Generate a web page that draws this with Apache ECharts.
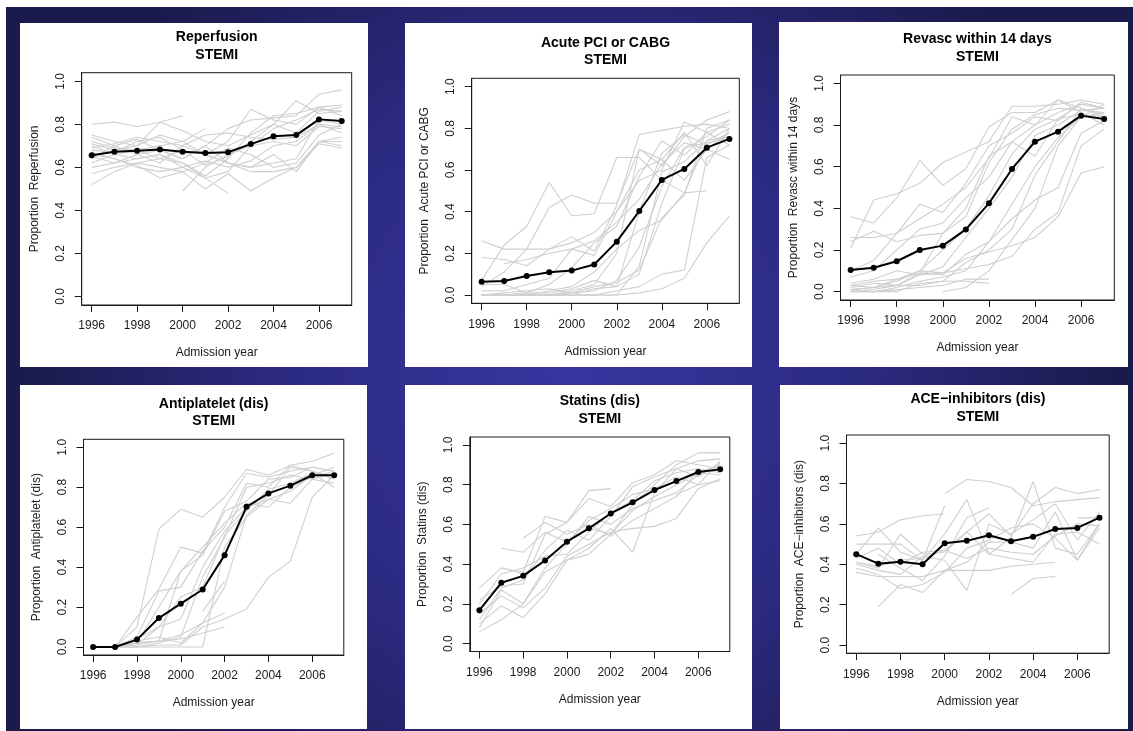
<!DOCTYPE html>
<html>
<head>
<meta charset="utf-8">
<script src="https://cdn.jsdelivr.net/npm/echarts@6/dist/echarts.min.js"></script>
<style>
html,body{margin:0;padding:0;background:#fff;}
#chart{width:1133px;height:731px;}
</style>
</head>
<body>
<div id="chart"></div>
<script>
// ---------------- DATA ----------------
const years = [1996,1997,1998,1999,2000,2001,2002,2003,2004,2005,2006,2007];
const xTickYears = [1996,1998,2000,2002,2004,2006];
const yTickValues = [0.0,0.2,0.4,0.6,0.8,1.0];
const xAxisTitle = 'Admission year';
const subTitle = 'STEMI';

const panelTitles = ['Reperfusion','Acute PCI or CABG','Revasc within 14 days','Antiplatelet (dis)','Statins (dis)','ACE\u2212inhibitors (dis)'];
const yAxisTitles = ['Proportion  Reperfusion','Proportion  Acute PCI or CABG','Proportion  Revasc within 14 days','Proportion  Antiplatelet (dis)','Proportion  Statins (dis)','Proportion  ACE\u2212inhibitors (dis)'];

const reperfusionMean = [0.656,0.672,0.677,0.683,0.672,0.667,0.670,0.708,0.744,0.750,0.823,0.816];
const reperfusionCentres = [
[0.80,0.81,0.79,0.81,0.84,null,null,null,null,null,null,null],
[0.75,0.72,0.70,0.81,0.77,0.72,0.70,0.75,0.80,0.91,0.85,0.86],
[0.74,0.70,0.73,0.68,0.64,0.70,0.78,0.82,0.83,0.84,0.94,0.96],
[0.72,0.69,0.68,0.70,0.72,0.66,0.72,0.87,0.82,0.80,0.88,0.89],
[0.70,0.66,0.64,0.66,0.62,0.55,0.58,0.70,0.78,0.82,0.87,0.86],
[0.68,0.67,0.72,0.74,0.68,0.61,0.65,0.72,0.80,0.76,0.86,0.88],
[0.66,0.64,0.60,0.58,0.60,0.63,0.60,0.63,0.70,0.72,0.80,0.79],
[0.64,0.70,0.66,0.62,0.70,0.66,0.62,0.60,0.62,0.64,0.82,0.80],
[0.60,0.62,0.64,0.66,0.60,0.55,0.48,null,null,null,null,null],
[0.57,0.60,0.62,0.60,0.58,0.50,0.57,0.49,0.55,0.60,0.71,0.69],
[0.52,0.58,0.62,0.64,0.68,0.66,0.62,0.58,0.58,0.60,0.72,0.72],
[null,null,null,null,0.49,0.60,0.66,0.70,0.72,0.70,0.79,0.78],
[0.69,0.71,0.74,0.72,0.70,0.75,0.76,0.74,0.73,0.74,0.80,0.76],
[0.65,0.62,0.66,0.68,0.64,0.70,0.62,0.60,0.66,0.58,0.72,0.74],
[0.71,0.68,0.70,0.75,0.72,0.78,null,null,null,null,null,null],
[null,null,null,null,null,null,null,null,null,0.58,0.72,0.70],
[0.67,0.64,0.61,0.55,0.58,0.62,0.69,0.66,0.60,0.62,0.75,0.80],
[0.62,0.66,0.68,0.64,0.62,0.56,0.64,0.76,0.84,0.85,0.88,0.84]
];

const pciMean = [0.064,0.067,0.091,0.109,0.117,0.146,0.256,0.403,0.552,0.605,0.707,0.749];
const pciCentres = [
[0.26,0.22,0.22,0.22,0.28,0.21,0.43,0.77,0.79,0.81,0.82,0.80],
[0.18,0.17,0.14,0.22,0.25,0.30,0.40,0.55,0.60,0.83,0.78,0.72],
[0.07,0.24,0.33,0.54,0.38,0.39,0.66,0.66,0.55,0.49,0.50,null],
[0.04,0.11,0.22,0.42,0.48,0.44,0.44,0.70,0.62,0.76,0.84,0.88],
[0.00,0.00,0.01,0.05,0.13,0.25,0.33,0.57,0.74,0.67,0.78,0.82],
[0.00,0.00,0.00,0.00,0.01,0.02,0.07,0.23,0.52,0.71,0.73,0.75],
[0.00,0.00,0.00,0.00,0.00,0.03,0.04,0.10,0.44,0.70,0.76,0.84],
[0.00,0.00,0.00,0.00,0.00,0.00,0.02,0.04,0.10,0.12,0.66,0.72],
[0.00,0.00,0.00,0.00,0.00,0.00,0.00,0.01,0.03,0.08,0.25,0.38],
[0.00,0.00,0.00,0.00,0.02,0.05,0.20,0.70,0.65,0.55,0.70,0.65],
[0.05,0.05,0.01,0.01,0.03,0.07,0.04,0.40,0.68,0.77,0.72,0.78],
[0.00,0.00,0.00,0.00,0.00,0.00,0.00,0.14,0.59,0.64,0.74,0.80],
[null,0.15,0.17,0.20,0.22,0.19,0.40,0.60,0.65,0.78,0.62,0.80],
[0.00,0.00,0.00,0.02,0.04,0.11,0.22,0.31,0.36,0.49,0.74,0.76],
[0.00,0.01,0.02,0.03,0.01,0.04,0.06,0.12,0.37,0.48,0.80,0.84],
[0.02,0.02,0.05,0.08,0.22,0.26,0.35,0.46,0.63,0.73,0.70,0.78]
];

const revascMean = [0.104,0.115,0.146,0.200,0.221,0.299,0.424,0.589,0.720,0.768,0.845,0.829];
const revascCentres = [
[0.36,0.33,0.45,0.63,0.51,0.59,0.79,0.86,0.86,0.92,0.88,0.85],
[0.21,0.44,0.47,0.52,0.62,0.67,0.72,0.89,0.89,0.90,0.92,0.90],
[0.26,0.26,0.28,0.35,0.42,0.50,0.64,0.84,0.80,0.86,0.90,0.88],
[0.24,0.29,0.24,0.27,0.28,0.36,0.62,0.78,0.85,0.88,0.87,0.86],
[0.10,0.15,0.28,0.42,0.38,0.52,0.70,0.76,0.84,0.82,0.91,0.88],
[0.07,0.10,0.20,0.30,0.33,0.45,0.55,0.72,0.80,0.92,0.86,0.80],
[0.03,0.02,0.06,0.10,0.20,0.30,0.46,0.66,0.78,0.83,0.85,0.84],
[0.02,0.04,0.03,0.08,0.12,0.26,0.40,0.55,0.75,0.80,0.87,0.88],
[0.01,0.00,0.02,0.05,0.07,0.10,0.24,0.42,0.60,0.74,0.84,0.86],
[0.00,0.00,0.00,0.04,0.05,0.14,0.20,0.30,0.56,0.72,0.88,0.84],
[0.00,0.01,0.03,0.09,0.08,0.18,0.24,0.35,0.44,0.50,0.76,0.82],
[0.04,0.06,0.10,0.08,0.09,0.16,0.19,0.22,0.26,0.36,0.57,0.60],
[0.01,0.02,0.05,0.10,0.09,0.11,0.13,0.17,0.30,0.38,0.70,0.78],
[0.00,0.00,0.01,0.02,0.03,0.06,0.06,null,null,null,null,null],
[0.01,0.02,0.03,0.03,0.05,0.05,0.04,null,null,null,null,null],
[null,null,null,null,0.00,0.02,0.10,0.25,0.40,0.70,0.84,0.90],
[0.03,0.05,0.06,0.09,0.28,0.40,0.65,0.72,0.65,0.83,0.90,0.88]
];

const antiplateletMean = [0.000,0.000,0.037,0.145,0.217,0.288,0.460,0.702,0.769,0.808,0.860,0.860];
const antiplateletCentres = [
[null,0.00,0.10,0.59,0.69,0.65,0.75,0.89,0.86,0.91,0.93,0.97],
[null,0.00,0.15,0.29,0.50,0.47,0.70,0.87,0.85,0.88,0.90,0.88],
[null,0.00,0.05,0.28,0.30,0.48,0.60,0.82,0.80,0.91,0.88,0.85],
[null,0.00,0.02,0.20,0.38,0.46,0.68,0.73,0.84,0.85,0.90,0.88],
[null,0.00,0.01,0.10,0.14,0.40,0.58,0.70,0.74,0.78,0.86,0.90],
[null,0.00,0.00,0.02,0.05,0.35,0.55,0.80,0.82,0.86,0.84,0.87],
[null,0.00,0.00,0.01,0.01,0.10,0.14,0.19,0.35,0.43,0.75,0.86],
[null,0.00,0.01,0.03,0.06,0.12,0.30,0.66,0.76,0.90,0.88,0.84],
[null,0.00,0.00,0.00,0.00,0.00,0.50,0.65,0.74,0.72,0.84,0.82],
[null,0.00,0.03,0.05,0.02,0.12,0.17,null,null,null,null,null],
[null,0.00,0.02,0.03,0.04,0.07,0.10,null,null,null,null,null],
[null,0.00,0.04,0.10,0.25,0.30,0.56,0.68,0.79,0.82,0.87,0.80],
[null,null,null,null,null,0.18,0.33,null,null,null,null,null],
[null,0.00,0.02,0.03,0.38,0.50,0.62,0.72,0.70,0.80,0.85,0.88]
];

const statinsMean = [0.168,0.306,0.341,0.418,0.513,0.580,0.655,0.711,0.773,0.818,0.864,0.877];
const statinsCentres = [
[0.28,0.38,0.36,0.64,0.61,0.77,0.78,null,null,null,null,null],
[0.22,0.29,0.30,0.55,0.61,0.73,0.69,0.81,0.85,0.92,0.90,0.88],
[0.08,0.27,0.20,0.36,0.42,0.45,0.55,0.70,0.80,0.90,0.96,0.96],
[0.10,0.19,0.13,0.25,0.42,0.48,0.58,0.46,0.76,0.88,0.92,0.93],
[0.06,0.12,0.20,0.38,0.50,0.64,0.60,0.68,0.72,0.76,0.85,0.90],
[0.20,0.35,0.38,0.44,0.45,0.56,0.66,0.72,0.82,0.86,0.88,0.86],
[null,0.48,0.46,0.56,0.51,0.62,0.68,0.75,0.78,0.84,0.80,0.92],
[null,null,0.53,0.61,0.55,0.60,0.54,0.62,0.68,0.74,0.87,0.89],
[0.15,0.24,0.18,0.28,0.44,0.50,0.56,0.58,0.59,0.63,0.78,0.83],
[null,0.38,0.35,0.42,0.51,0.58,0.55,0.67,0.74,0.80,0.86,0.85],
[null,null,null,null,null,null,null,null,null,0.75,0.80,0.82],
[0.12,0.28,0.32,0.47,0.57,0.52,0.64,0.79,0.84,0.88,0.84,0.91]
];

const aceMean = [0.450,0.403,0.413,0.400,0.504,0.516,0.544,0.514,0.536,0.575,0.580,0.631];
const aceCentres = [
[0.54,0.56,0.62,0.64,0.65,null,null,null,null,null,null,null],
[null,null,null,null,0.75,0.82,0.81,0.78,0.69,0.71,0.72,0.73],
[0.50,0.50,0.50,0.42,0.69,null,null,null,null,null,null,null],
[0.45,0.58,0.46,0.42,0.55,0.72,0.45,0.53,0.81,0.48,0.45,0.60],
[0.41,0.38,0.55,0.45,0.46,0.56,0.65,0.54,0.70,0.78,0.75,0.77],
[0.40,0.37,0.35,0.44,0.42,0.27,0.60,0.55,0.62,0.70,0.52,0.66],
[0.36,0.34,0.34,0.34,0.37,0.37,0.37,0.39,0.40,0.41,null,null],
[null,0.19,0.30,0.26,0.37,0.41,0.51,0.51,0.48,0.66,0.42,0.58],
[null,0.45,0.38,0.32,0.44,0.63,0.68,null,null,null,null,null],
[null,null,null,null,null,null,null,0.25,0.33,0.34,null,null],
[0.41,0.39,0.42,0.43,0.47,0.43,0.48,0.46,0.45,0.54,0.60,0.59],
[0.43,0.48,0.40,0.46,0.47,0.56,0.45,0.43,0.41,0.55,0.56,0.50],
[0.38,0.35,0.28,0.30,0.36,0.48,0.52,0.58,0.60,0.53,0.42,0.60],
[null,null,null,null,null,null,null,null,null,null,0.63,0.63]
];

const meanSeries = [reperfusionMean,pciMean,revascMean,antiplateletMean,statinsMean,aceMean];
const centreSeries = [reperfusionCentres,pciCentres,revascCentres,antiplateletCentres,statinsCentres,aceCentres];

// ---------------- LAYOUT ----------------
// plot boxes [x1, y1, x2, y2] and white panel cards [x1, y1, x2, y2]
const boxes = [
  [81.7,72.7,351.7,305],
  [471.7,78.3,739.3,303.3],
  [840.5,75,1114.3,300],
  [83.5,439.3,343.8,655],
  [469.8,437,729.8,651.5],
  [846.5,435,1109.2,653.2]
];
const cards = [
  [20,23,368,367],
  [405,23,752,367],
  [779,22,1128,367],
  [20,385,367,729],
  [405,385,752,729],
  [780,385,1128,729]
];

const FONT = '"Liberation Sans", Arial, Helvetica, sans-serif';
const INK = '#1a1a1a';

const grids = [], xAxes = [], yAxes = [], series = [], graphics = [];

graphics.push({
  type:'rect', z:-100, shape:{x:6,y:7,width:1127,height:724},
  style:{fill:{type:'radial',x:0.5,y:0.5,r:0.75,colorStops:[
    {offset:0,color:'#3835a0'},{offset:0.55,color:'#2b2a80'},{offset:1,color:'#1b1a4d'}]}}
});

boxes.forEach((b,i)=>{
  const c = cards[i];
  graphics.push({type:'rect', z:-90, shape:{x:c[0],y:c[1],width:c[2]-c[0],height:c[3]-c[1]}, style:{fill:'#ffffff'}});
  const cx = (b[0]+b[2])/2;
  graphics.push({type:'text', z:10, x:cx, y:b[1]-35.5, style:{text:panelTitles[i], font:'bold 14px '+FONT, fill:'#000', textAlign:'center', textVerticalAlign:'middle'}});
  graphics.push({type:'text', z:10, x:cx, y:b[1]-18, style:{text:subTitle, font:'bold 14px '+FONT, fill:'#000', textAlign:'center', textVerticalAlign:'middle'}});

  grids.push({left:b[0], top:b[1], width:b[2]-b[0], height:b[3]-b[1], show:true, borderColor:INK, borderWidth:1, backgroundColor:'transparent', containLabel:false});
  xAxes.push({
    type:'value', gridIndex:i, min:1995.56, max:2007.44,
    name:xAxisTitle, nameLocation:'middle', nameGap:42,
    nameTextStyle:{fontFamily:FONT, fontSize:12, color:INK},
    axisLine:{show:true, onZero:false, lineStyle:{color:INK, width:1}},
    axisTick:{show:true, inside:false, length:7, lineStyle:{color:INK}, customValues:xTickYears},
    axisLabel:{show:true, margin:15, fontFamily:FONT, fontSize:12, color:INK, customValues:xTickYears, formatter:v=>String(v)},
    splitLine:{show:false}
  });
  yAxes.push({
    type:'value', gridIndex:i, min:-0.04, max:1.04,
    name:yAxisTitles[i], nameLocation:'middle', nameGap:41, nameRotate:90,
    nameTextStyle:{fontFamily:FONT, fontSize:12, color:INK},
    axisLine:{show:true, onZero:false, lineStyle:{color:INK, width:1}},
    axisTick:{show:true, inside:false, length:7, lineStyle:{color:INK}, customValues:yTickValues},
    axisLabel:{show:true, margin:15, rotate:90, fontFamily:FONT, fontSize:12, color:INK, customValues:yTickValues, formatter:v=>v.toFixed(1)},
    splitLine:{show:false}
  });
  centreSeries[i].forEach(row=>{
    series.push({
      type:'line', xAxisIndex:i, yAxisIndex:i, silent:true, symbol:'none', connectNulls:false,
      lineStyle:{color:'#cfcfcf', width:1.1}, z:2, animation:false,
      data: years.map((y,k)=>[y,row[k]])
    });
  });
  series.push({
    type:'line', xAxisIndex:i, yAxisIndex:i, silent:true, symbol:'circle', symbolSize:6,
    itemStyle:{color:'#000'}, lineStyle:{color:'#000', width:2}, z:5, animation:false,
    data: years.map((y,k)=>[y,meanSeries[i][k]])
  });
});

const chart = echarts.init(document.getElementById('chart'), null, {renderer:'canvas'});
chart.setOption({
  animation:false,
  backgroundColor:'#ffffff',
  grid:grids, xAxis:xAxes, yAxis:yAxes, series:series,
  graphic:graphics
});
</script>
</body>
</html>
